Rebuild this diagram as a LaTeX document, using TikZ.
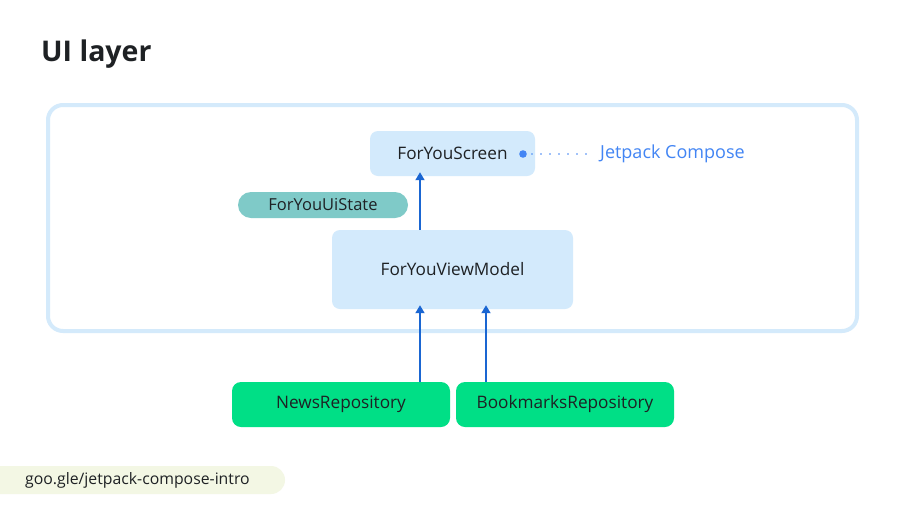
\documentclass[tikz,border=0pt]{standalone}
\usepackage{fontspec}
\setmainfont{Open Sans}
\usetikzlibrary{arrows.meta}
\definecolor{layerblue}{HTML}{D4EAFB}
\definecolor{boxblue}{HTML}{D3EAFC}
\definecolor{arrowblue}{HTML}{1A66D2}
\definecolor{composeblue}{HTML}{4285F4}
\definecolor{statecolor}{HTML}{7FCAC8}
\definecolor{repogreen}{HTML}{00DF86}
\definecolor{linkfill}{HTML}{F3F7E4}
\definecolor{inkcolor}{HTML}{1E2124}
\tikzset{
  uibox/.style={fill=boxblue,rounded corners=8pt,text=inkcolor,font=\fontsize{17.2}{20}\selectfont},
  repobox/.style={fill=repogreen,rounded corners=9pt,text=inkcolor,minimum width=218pt,minimum height=45pt,font=\fontsize{17.2}{20}\selectfont},
  flow/.style={arrowblue,line width=1.8pt,-{Triangle[length=8pt,width=9pt]}}
}
\begin{document}
\begin{tikzpicture}[x=1pt,y=-1pt]
      \useasboundingbox[fill=white] (0,0) rectangle (900,504);
      \node[anchor=base west,text=inkcolor,font=\fontsize{28.5}{34}\bfseries\selectfont,inner sep=0pt] (title) at (41,61) {UI layer};
      \draw[layerblue,line width=4pt,rounded corners=15pt] (48,105) rectangle (857,331);
      \node[uibox,minimum width=165pt,minimum height=45pt] (screen) at (452.5,153.5) {ForYouScreen};
      \node[uibox,minimum width=241pt,minimum height=79pt] (viewmodel) at (452.5,269.5) {ForYouViewModel};
      \node[fill=statecolor,rounded corners=13pt,minimum width=170pt,minimum height=26pt,text=inkcolor,font=\fontsize{16.5}{19}\selectfont] (uistate) at (323,205) {ForYouUiState};
      \node[anchor=west,text=composeblue,font=\fontsize{18}{21}\selectfont,inner sep=0pt] (compose) at (600,154) {Jetpack Compose};
      \coordinate (dot) at (523,154);
      \fill[composeblue] (dot) circle (3.8pt);
      \draw[composeblue,line width=1.8pt,line cap=round,dash pattern=on 0pt off 9pt] (dot) -- ([xshift=-6pt]compose.west);
      \node[repobox] (newsrepo) at (341,404.5) {NewsRepository};
      \node[repobox] (bookmarksrepo) at (565,404.5) {BookmarksRepository};
      \draw[flow] (viewmodel.north -| 420,0) -- ([yshift=4pt]screen.south -| 420,0);
      \draw[flow] (newsrepo.north -| 420,0) -- ([yshift=4pt]viewmodel.south -| 420,0);
      \draw[flow] (bookmarksrepo.north -| 486,0) -- ([yshift=4pt]viewmodel.south -| 486,0);
      \fill[linkfill,rounded corners=14pt] (-20,466) rectangle (285,494);
      \node[anchor=west,text=inkcolor,font=\fontsize{15.8}{19}\selectfont,inner sep=0pt] (link) at (25,480) {goo.gle/jetpack-compose-intro};
  \end{tikzpicture}
\end{document}
